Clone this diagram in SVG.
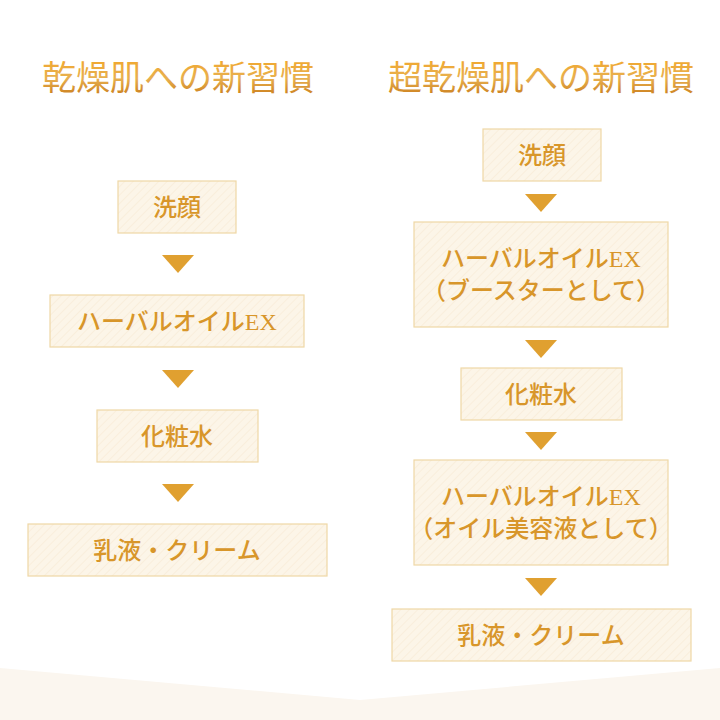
<svg xmlns="http://www.w3.org/2000/svg" width="720" height="720" viewBox="0 0 720 720">
<defs>
<linearGradient id="tg" x1="0" y1="0" x2="0" y2="1"><stop offset="0" stop-color="#f0a830"/><stop offset="0.5" stop-color="#e8b050"/><stop offset="1" stop-color="#c87a18"/></linearGradient>
<pattern id="st" width="6" height="6" patternUnits="userSpaceOnUse" patternTransform="rotate(45)"><rect width="6" height="6" fill="#fcf5e8"/><line x1="0" y1="0" x2="0" y2="6" stroke="#f9eedc" stroke-width="2"/></pattern>
</defs>
<style>
.t{font-family:"Liberation Serif","Noto Sans CJK JP",serif;font-size:34px;fill:url(#tg);text-anchor:middle}
.b{fill:url(#st);stroke:#efd7a6;stroke-width:1.2}
.l{font-family:"Liberation Serif","Noto Sans CJK JP",serif;font-size:24px;font-weight:500;fill:#d8962a;text-anchor:middle}
.a{fill:#e0a030}
</style>
<rect width="720" height="720" fill="#fff"/>
<path d="M0 668 L360 700 L720 668 L720 720 L0 720 Z" fill="#fbf6ef"/>
<text class="t" x="178" y="90">乾燥肌への新習慣</text>
<text class="t" x="541" y="90">超乾燥肌への新習慣</text>
<g id="connectors">
<path class="a" d="M162 255 L194 255 L178 273 Z"/>
<path class="a" d="M162 370 L194 370 L178 388 Z"/>
<path class="a" d="M162 484 L194 484 L178 502 Z"/>
<path class="a" d="M525 194 L557 194 L541 212 Z"/>
<path class="a" d="M525 340 L557 340 L541 358 Z"/>
<path class="a" d="M525 432 L557 432 L541 450 Z"/>
<path class="a" d="M525 578 L557 578 L541 596 Z"/>
</g>
<g id="l1"><rect class="b" x="118" y="181" width="118" height="52"/><text class="l" x="177" y="216">洗顔</text></g>
<g id="l2"><rect class="b" x="50" y="295" width="254" height="52"/><text class="l" x="177" y="330">ハーバルオイルEX</text></g>
<g id="l3"><rect class="b" x="97" y="410" width="161" height="52"/><text class="l" x="177" y="445">化粧水</text></g>
<g id="l4"><rect class="b" x="28" y="524" width="299" height="52"/><text class="l" x="177" y="559">乳液・クリーム</text></g>
<g id="r1"><rect class="b" x="483" y="129" width="118" height="52"/><text class="l" x="542" y="164">洗顔</text></g>
<g id="r2"><rect class="b" x="414" y="222" width="254" height="105"/><text class="l" x="541" y="267">ハーバルオイルEX</text><text class="l" x="541" y="299">（ブースターとして）</text></g>
<g id="r3"><rect class="b" x="461" y="368" width="161" height="52"/><text class="l" x="541" y="403">化粧水</text></g>
<g id="r4"><rect class="b" x="414" y="460" width="254" height="105"/><text class="l" x="541" y="505">ハーバルオイルEX</text><text class="l" x="541" y="537">（オイル美容液として）</text></g>
<g id="r5"><rect class="b" x="392" y="609" width="299" height="52"/><text class="l" x="541" y="644">乳液・クリーム</text></g>
</svg>
